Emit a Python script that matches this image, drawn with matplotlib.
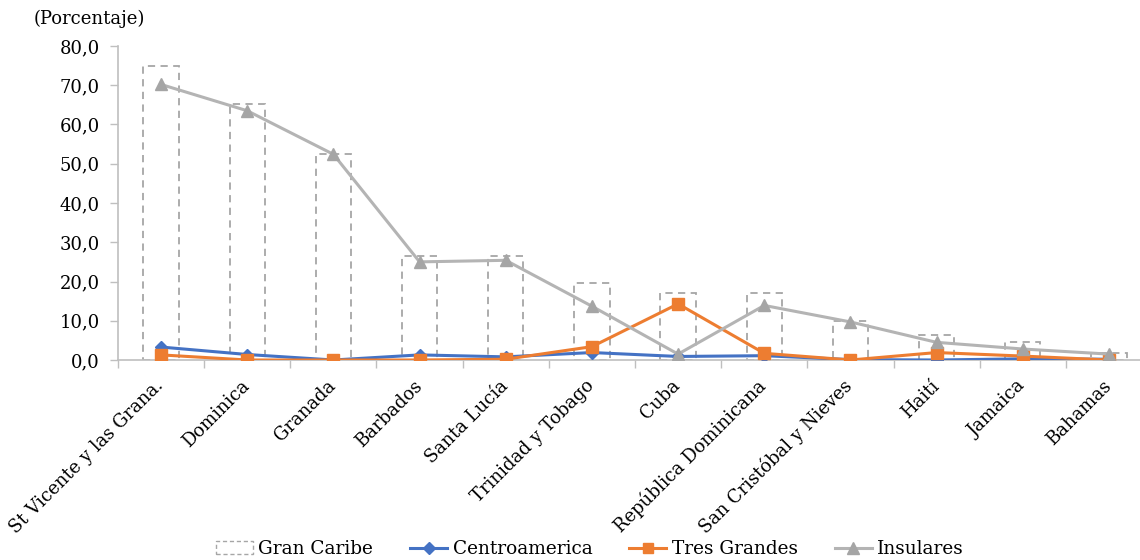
import matplotlib
matplotlib.use("Agg")
import matplotlib.pyplot as plt
from matplotlib.patches import Rectangle
from matplotlib.lines import Line2D
from matplotlib.transforms import ScaledTranslation
import numpy as np

# Data (percent)
paises = ["St Vicente y las Grana.", "Dominica", "Granada", "Barbados", "Santa Lucía",
          "Trinidad y Tobago", "Cuba", "República Dominicana", "San Cristóbal y Nieves",
          "Haití", "Jamaica", "Bahamas"]
gran_caribe = [75.0, 65.2, 52.5, 26.5, 26.5, 19.5, 17.1, 17.0, 10.0, 6.4, 4.5, 1.9]
centroamerica = [3.3, 1.4, 0.0, 1.3, 0.8, 1.9, 0.9, 1.1, 0.1, 0.0, 0.3, 0.2]
tres_grandes = [1.3, 0.0, 0.0, 0.0, 0.2, 3.4, 14.3, 1.7, 0.0, 1.9, 1.0, 0.0]
insulares = [70.2, 63.5, 52.4, 25.0, 25.4, 13.7, 1.5, 13.9, 9.7, 4.5, 2.8, 1.5]
yticks = [0, 10, 20, 30, 40, 50, 60, 70, 80]

plt.rcParams['font.family'] = ['DejaVu Serif']

W, H = 1140, 560
fig = plt.figure(figsize=(W / 100, H / 100), dpi=100)
ax = fig.add_axes([118 / W, 200 / H, 1034 / W, 314 / H])

x = np.arange(len(paises))
ax.bar(x, gran_caribe, width=0.41, fill=False, edgecolor="#A6A6A6",
       linestyle=(0, (4, 3)), linewidth=1.3, zorder=1)

ax.plot(x, centroamerica, color="#4472C4", lw=2.2, marker="D", ms=6, zorder=3)
ax.plot(x, tres_grandes, color="#ED7D31", lw=2.2, marker="s", ms=8, zorder=4)
ax.plot(x, insulares, color="#B4B4B4", lw=2.2, marker="^", ms=9,
        markerfacecolor="#A5A5A5", markeredgecolor="#A5A5A5", zorder=5)

ax.set_xlim(-0.5, len(paises) - 0.5)
ax.set_ylim(0, 80)
ax.set_yticks(yticks)
ax.set_yticklabels([f"{v:.1f}".replace(".", ",") for v in yticks], fontsize=13)

ax.set_xticks(x)
ax.set_xticklabels(paises, rotation=45, ha="right", va="top", fontsize=13)
ax.tick_params(axis="x", length=0, pad=12)
shift = ScaledTranslation(6 / 100, 0, fig.dpi_scale_trans)
for lbl in ax.get_xticklabels():
    lbl.set_transform(lbl.get_transform() + shift)
ax.set_xticks(np.arange(-0.5, len(paises), 1), minor=True)
ax.tick_params(axis="x", which="minor", length=6, color="#BFBFBF", width=1)
ax.tick_params(axis="y", length=6, color="#BFBFBF", width=1, pad=7)

for s in ["top", "right"]:
    ax.spines[s].set_visible(False)
for s in ["left", "bottom"]:
    ax.spines[s].set_color("#BFBFBF")
    ax.spines[s].set_linewidth(1.2)

fig.text(34 / W, 1 - 19 / H, "(Porcentaje)", fontsize=13, va="center", ha="left")

handles = [
    Rectangle((0, 0), 1, 1, fill=False, edgecolor="#A6A6A6", linestyle=(0, (3, 2)), lw=1.0),
    Line2D([], [], color="#4472C4", lw=2.2, marker="D", ms=6),
    Line2D([], [], color="#ED7D31", lw=2.2, marker="s", ms=7),
    Line2D([], [], color="#B4B4B4", lw=2.2, marker="^", ms=8,
           markerfacecolor="#A5A5A5", markeredgecolor="#A5A5A5"),
]
fig.legend(handles, ["Gran Caribe", "Centroamerica", "Tres Grandes", "Insulares"],
           loc="center", bbox_to_anchor=(590 / W, 1 - 549 / H), ncol=4, frameon=False,
           fontsize=13.3, handlelength=2.0, columnspacing=2.0, handletextpad=0.3)

fig.savefig("out.png", dpi=100)
